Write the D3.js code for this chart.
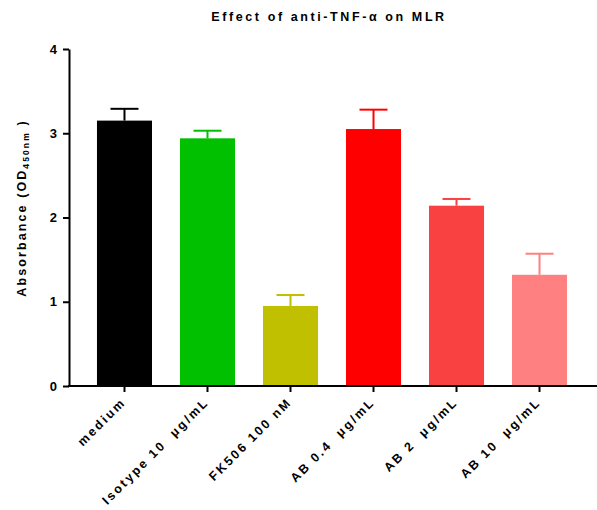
<!DOCTYPE html>
<html>
<head>
<meta charset="utf-8">
<script src="https://cdn.jsdelivr.net/npm/d3@7"></script>
<style>
  body { margin: 0; background: #fff; }
  text { font-family: "Liberation Sans", Arial, sans-serif; font-weight: bold; white-space: pre; }
</style>
</head>
<body>
<svg id="chart" width="597" height="510"></svg>
<script>
// data
var groups = ["medium", "Isotype 10  \u03bcg/mL", "FK506 100 nM", "AB 0.4  \u03bcg/mL", "AB 2  \u03bcg/mL", "AB 10  \u03bcg/mL"];
var means = [3.15, 2.94, 0.95, 3.05, 2.14, 1.32];
var sems = [0.14, 0.09, 0.13, 0.23, 0.08, 0.25];
var colors = ["#000000", "#00c000", "#c0c000", "#ff0000", "#f94141", "#ff8080"];
var yTicks = [0, 1, 2, 3, 4];

var svg = d3.select("#chart");

var x = d3.scaleBand().domain(groups).range([69, 595]).padding(0.337);
var y = d3.scaleLinear().domain([0, 4]).range([386, 49]);

// bars
svg.selectAll("rect.bar").data(groups).enter().append("rect")
  .attr("class", "bar")
  .attr("x", function(d){ return x(d); })
  .attr("y", function(d, i){ return y(means[i]); })
  .attr("width", x.bandwidth())
  .attr("height", function(d, i){ return y(0) - y(means[i]); })
  .attr("fill", function(d, i){ return colors[i]; });

// error bars (upper only)
var capW = 28;
var err = svg.selectAll("g.err").data(groups).enter().append("g")
  .attr("class", "err")
  .attr("stroke", function(d, i){ return colors[i]; })
  .attr("stroke-width", 2);
err.append("line")
  .attr("x1", function(d){ return x(d) + x.bandwidth() / 2; })
  .attr("x2", function(d){ return x(d) + x.bandwidth() / 2; })
  .attr("y1", function(d, i){ return y(means[i]); })
  .attr("y2", function(d, i){ return y(means[i] + sems[i]); });
err.append("line")
  .attr("x1", function(d){ return x(d) + x.bandwidth() / 2 - capW / 2; })
  .attr("x2", function(d){ return x(d) + x.bandwidth() / 2 + capW / 2; })
  .attr("y1", function(d, i){ return y(means[i] + sems[i]); })
  .attr("y2", function(d, i){ return y(means[i] + sems[i]); });

// y axis
var yAxis = svg.append("g").attr("transform", "translate(69,0)")
  .call(d3.axisLeft(y).tickValues(yTicks).tickFormat(d3.format("d")).tickSize(6).tickPadding(6).tickSizeOuter(0));
yAxis.select(".domain").attr("stroke-width", 2);
yAxis.selectAll(".tick line").attr("stroke-width", 2);
yAxis.selectAll(".tick text").attr("font-size", 13).attr("font-weight", "bold").attr("fill", "#000")
  .attr("font-family", "Liberation Sans, Arial, sans-serif");

// x axis
var xAxis = svg.append("g").attr("transform", "translate(0,386)")
  .call(d3.axisBottom(x).tickSize(6).tickSizeOuter(0).tickFormat(""));
xAxis.select(".domain").attr("d", "M68,0H597").attr("stroke-width", 2);
xAxis.selectAll(".tick line").attr("stroke-width", 2);

// rotated category labels
svg.selectAll("text.xlab").data(groups).enter().append("text")
  .attr("class", "xlab")
  .attr("transform", function(d){ return "translate(" + (x(d) + x.bandwidth() / 2 + 2) + ",403) rotate(-45)"; })
  .attr("text-anchor", "end")
  .attr("font-size", 12.5)
  .attr("letter-spacing", "2.3px")
  .text(function(d){ return d; });

// y label
var yl = svg.append("text")
  .attr("transform", "translate(26,208) rotate(-90)")
  .attr("text-anchor", "middle")
  .attr("font-size", 12.5)
  .attr("letter-spacing", "2.1px");
yl.append("tspan").text("Absorbance (OD");
yl.append("tspan").attr("font-size", 8.5).attr("dy", 3).text("450nm");
yl.append("tspan").attr("dy", -3).text(" )");

// title
svg.append("text")
  .attr("x", 329).attr("y", 21)
  .attr("text-anchor", "middle")
  .attr("font-size", 12.5)
  .attr("letter-spacing", "2.6px")
  .text("Effect of anti-TNF-\u03b1 on MLR");
</script>
</body>
</html>
